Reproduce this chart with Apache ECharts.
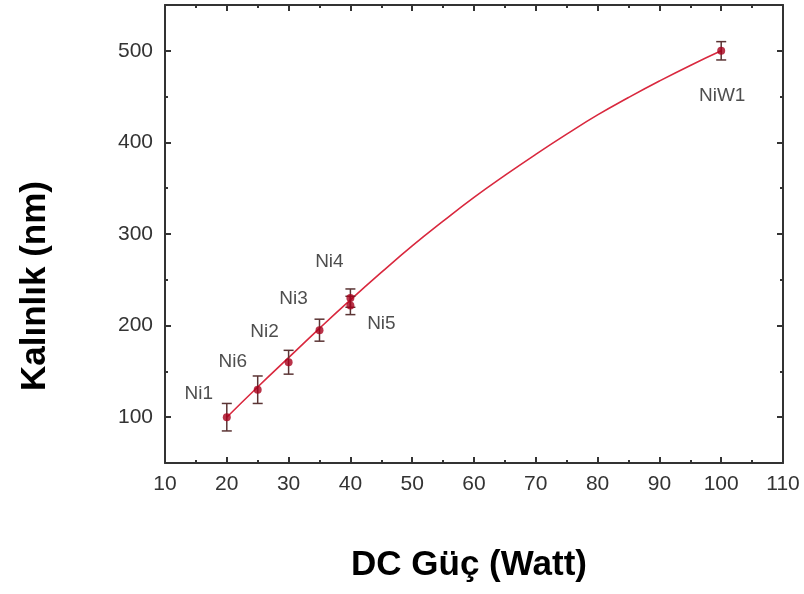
<!DOCTYPE html>
<html>
<head>
<meta charset="utf-8">
<script src="https://cdn.jsdelivr.net/npm/echarts@6/dist/echarts.min.js"></script>
<style>
  html, body { margin: 0; padding: 0; background: #fff; }
  #chart { width: 804px; height: 594px; }
</style>
</head>
<body>
<div id="chart"></div>
<script>
// ölçülen örnekler
const sampleNames = ['Ni1', 'Ni6', 'Ni2', 'Ni3', 'Ni4', 'Ni5', 'NiW1'];
const powerW = [20, 25, 30, 35, 40, 40, 100];
const thicknessNm = [100, 130, 160, 195, 230, 222, 500];
const errorNm = [15, 15, 13, 12, 10, 10, 10];

// uydurma eğrisi
const fitX = [20, 25, 30, 35, 40, 45, 50, 55, 60, 65, 70, 75, 80, 85, 90, 95, 100];
const fitY = [100, 133, 165, 197, 228, 258, 287, 314, 340, 364, 387, 409, 430, 449, 467, 484, 500];

const yMajor = [100, 200, 300, 400, 500];
const yMinor = [150, 250, 350, 450];

// etiket kaydırmaları
const labelOffsets = [[-28, -23], [-25, -28], [-24, -30], [-26, -31], [-21, -36], [31, 18], [1, 45]];

const axisColor = '#333';
const fontFamily = 'Liberation Sans, Arial, sans-serif';

const myChart = echarts.init(document.getElementById('chart'));

const scatterData = powerW.map((x, i) => ({
    value: [x, thicknessNm[i]],
    name: sampleNames[i],
    label: { offset: labelOffsets[i] }
}));

const errData = powerW.map((x, i) => [x, thicknessNm[i], errorNm[i]]);

function yAxisBase(pos, values, len, withLine) {
    return {
        type: 'value',
        position: pos,
        min: 50,
        max: 550,
        interval: 50,
        splitLine: { show: false },
        axisLine: { show: withLine, lineStyle: { color: axisColor, width: 2 } },
        axisTick: { show: true, inside: true, length: len, customValues: values, lineStyle: { color: axisColor, width: 2 } },
        axisLabel: { show: false }
    };
}

function xAxisBase(pos, showLabel) {
    return {
        type: 'value',
        position: pos,
        min: 10,
        max: 110,
        interval: 10,
        splitLine: { show: false },
        axisLine: { show: true, onZero: false, lineStyle: { color: axisColor, width: 2 } },
        axisTick: { show: true, inside: true, length: 6, lineStyle: { color: axisColor, width: 2 } },
        minorTick: { show: true, splitNumber: 2, length: 3, lineStyle: { color: axisColor, width: 2 } },
        axisLabel: {
            show: showLabel, margin: 11, color: '#333', fontSize: 21, fontFamily: fontFamily
        }
    };
}

const yLeft = yAxisBase('left', yMajor, 6, true);
yLeft.axisLabel = {
    show: true, customValues: yMajor, margin: 12, color: '#333', fontSize: 21, fontFamily: fontFamily
};

const option = {
    animation: false,
    backgroundColor: '#fff',
    grid: { left: 165, top: 5, right: 21, bottom: 131 },
    xAxis: [xAxisBase('bottom', true), xAxisBase('top', false)],
    yAxis: [
        yLeft,
        yAxisBase('left', yMinor, 3, false),
        yAxisBase('right', yMajor, 6, true),
        yAxisBase('right', yMinor, 3, false)
    ],
    graphic: [
        {
            type: 'text', x: 469, y: 565,
            style: {
                text: 'DC Güç (Watt)', fontSize: 35, fontWeight: 'bold', fill: '#000',
                fontFamily: fontFamily, align: 'center', verticalAlign: 'middle'
            }
        },
        {
            type: 'text', x: 35, y: 286, rotation: Math.PI / 2,
            style: {
                text: 'Kalınlık (nm)', fontSize: 35, fontWeight: 'bold', fill: '#000',
                fontFamily: fontFamily, align: 'center', verticalAlign: 'middle'
            }
        }
    ],
    series: [
        {
            type: 'line',
            data: fitX.map((x, i) => [x, fitY[i]]),
            smooth: true,
            showSymbol: false,
            lineStyle: { color: '#d9283e', width: 1.6 },
            z: 2
        },
        {
            type: 'custom',
            data: errData,
            renderItem: function (params, api) {
                const x = api.value(0), y = api.value(1), e = api.value(2);
                const top = api.coord([x, y + e]);
                const bot = api.coord([x, y - e]);
                const w = 5;
                const st = { stroke: '#5b3434', lineWidth: 1.5 };
                return {
                    type: 'group',
                    children: [
                        { type: 'line', shape: { x1: top[0], y1: top[1], x2: bot[0], y2: bot[1] }, style: st },
                        { type: 'line', shape: { x1: top[0] - w, y1: top[1], x2: top[0] + w, y2: top[1] }, style: st },
                        { type: 'line', shape: { x1: bot[0] - w, y1: bot[1], x2: bot[0] + w, y2: bot[1] }, style: st }
                    ]
                };
            },
            z: 3
        },
        {
            type: 'scatter',
            data: scatterData,
            symbolSize: 8,
            itemStyle: { color: '#a8001c' },
            label: {
                show: true,
                position: 'inside',
                formatter: '{b}',
                color: '#222',
                fontSize: 19,
                fontFamily: fontFamily
            },
            z: 4
        }
    ]
};

myChart.setOption(option);
</script>
</body>
</html>
